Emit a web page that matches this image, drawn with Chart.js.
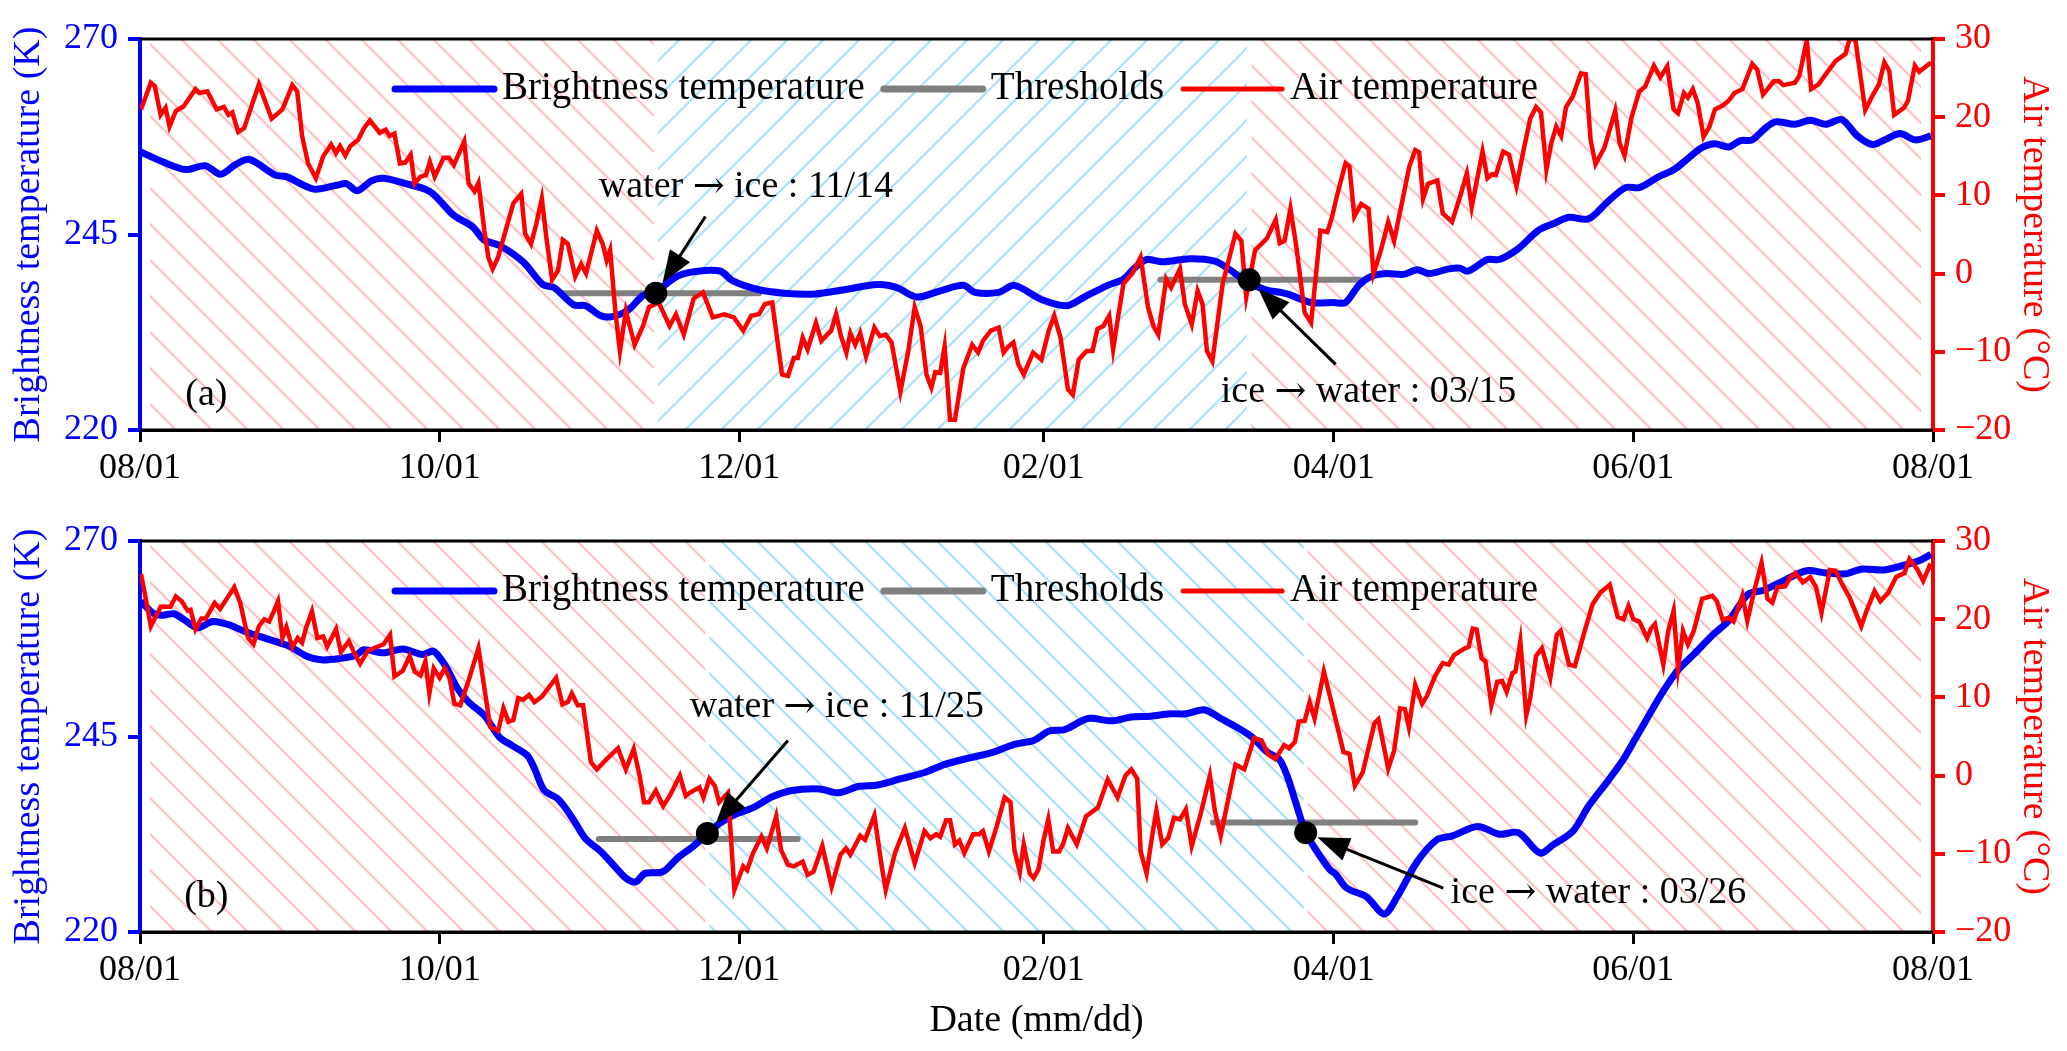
<!DOCTYPE html>
<html>
<head>
<meta charset="utf-8">
<script src="https://cdn.jsdelivr.net/npm/chart.js@4.4.1/dist/chart.umd.min.js"></script>
<style>
  html, body { margin: 0; padding: 0; background: #fff; }
  #wrap { position: relative; width: 2067px; height: 1051px; }
  canvas { position: absolute; left: 0; }
  #panelA { top: 0; }
  #panelB { top: 500px; }
</style>
</head>
<body>
<div id="wrap">
  <canvas id="panelA" width="2067" height="500"></canvas>
  <canvas id="panelB" width="2067" height="551"></canvas>
</div>
<script>
const FONT = '"Liberation Serif", "Times New Roman", serif';
const ARROW_FONT = '"DejaVu Serif", serif';

// x axis: days since 08/01
const tickDays = [0, 61, 122, 184, 243, 304, 365];
const tickLabels = ['08/01', '10/01', '12/01', '02/01', '04/01', '06/01', '08/01'];
const btTicks = [220, 245, 270];
const airTicks = [-20, -10, 0, 10, 20, 30];
const legendNames = ['Brightness temperature', 'Thresholds', 'Air temperature'];

// ---- panel (a) ----
const btDayA = [0, 4.6, 9.3, 13.3, 16.4, 19.6, 22.3, 27.5, 29.8, 35.4, 40, 42, 44.2, 47.2, 49.6, 53.5, 59, 63.8, 67.7, 70,
  73.2, 78, 82, 84.3, 88.3, 90.7, 93.8, 96.1, 99.3, 102.4, 104.8, 109.5, 113.5, 118.2, 120.6, 125.6, 131.1, 137.5, 143, 150.2,
  154.1, 158.1, 162.9, 167.6, 170, 174.8, 178, 183.5, 188.7, 192.2, 197, 200.2, 202.6, 205, 208.1, 213.7, 218.8, 221.6, 224.8, 228.8,
  233.5, 238.3, 243, 245.4, 248.1, 250.5, 253.7, 257.2, 260, 262.4, 266.4, 268.7, 270.3, 274.3, 276.7, 280.6, 284.6, 287.8, 290.9, 294.9,
  298.8, 302.4, 305.2, 309.2, 312.3, 314.7, 317.9, 320.6, 323.4, 325.8, 328.2, 330.5, 332.9, 336.9, 340, 343.2, 346.4, 349.6, 352.7, 355.1,
  358.3, 361.4, 364.6];
const btValA = [255.6, 254.3, 253.3, 253.8, 252.7, 254.0, 254.6, 252.6, 252.4, 250.8, 251.3, 251.5, 250.6, 251.9, 252.2, 251.6, 250.5, 247.5, 246.0, 244.3,
  243.6, 241.5, 238.6, 238.2, 236.0, 235.9, 234.6, 234.5, 235.3, 237.2, 237.6, 239.7, 240.3, 240.3, 239.1, 238.0, 237.5, 237.4, 237.9, 238.6,
  238.2, 237.0, 237.8, 238.5, 237.6, 237.6, 238.5, 236.7, 235.9, 237.0, 238.5, 239.3, 240.8, 241.8, 241.5, 241.9, 241.6, 240.6, 239.2, 238.0,
  237.4, 236.3, 236.3, 236.3, 238.5, 239.6, 240.0, 239.9, 240.5, 240.0, 240.6, 240.7, 240.3, 241.8, 241.8, 243.2, 245.5, 246.4, 247.2, 247.0,
  249.2, 251.0, 251.0, 252.4, 253.3, 254.5, 256.1, 256.6, 256.2, 257.0, 257.1, 258.4, 259.4, 259.1, 259.6, 259.1, 259.7, 257.6, 256.5, 257.1,
  257.9, 257.1, 257.6];
const airDayA = [0.2, 2.2, 3, 4.2, 5.2, 6, 7.3, 8.9, 11.3, 12.1, 13.7, 15.6, 17.1, 18, 18.8, 20, 21.2, 24.2, 26.8, 29,
  31, 32, 33, 34.2, 35.8, 37.3, 38.9, 39.9, 40.7, 41.8, 42.8, 44.4, 45.6, 46.8, 48.8, 50, 50.8, 51.8, 52.9, 54,
  55.1, 55.9, 57.1, 58.2, 59, 60, 61.8, 62.9, 63.9, 66, 66.9, 68.1, 68.9, 70.1, 70.9, 71.8, 72.9, 76, 77.6, 78.4,
  79.6, 80.7, 81.8, 82.7, 83.9, 85.1, 86.1, 87.1, 88.6, 89.8, 90.8, 93, 94.2, 95, 95.7, 96.8, 97.7, 98.9, 100.7, 102.4,
  103.6, 105.6, 107.8, 109.1, 110.7, 112.7, 114.6, 116.6, 118.9, 120.9, 122.8, 124.4, 126, 127.2, 128.7, 130.7, 131.9, 133.1, 133.9, 134.9,
  135.9, 137.6, 138.7, 139.9, 140.7, 141.7, 142.7, 143.8, 144.6, 145.6, 146.6, 147.8, 149.5, 150.6, 151.8, 153, 154.8, 156.4, 157.7, 158.9,
  160.1, 161.1, 161.9, 162.9, 163.8, 164.9, 165.9, 167.6, 169.4, 170.6, 171.6, 173.2, 174.8, 175.8, 176.8, 177.8, 178.8, 179.9, 181.8, 183.5,
  185, 186.1, 187.4, 188.9, 189.9, 191.1, 192.7, 193.9, 194.9, 196.1, 197.3, 198.1, 199.1, 200.2, 202, 203.7, 205.2, 206.3, 207.3, 208.9,
  209.9, 211.7, 212.7, 214.1, 215.3, 216.3, 217.2, 218.3, 220.4, 223, 224.2, 225.2, 227, 228.6, 229.4, 231.2, 232, 233, 234.2, 235.4,
  237.1, 238.4, 240.3, 241.7, 242.7, 243.6, 245.4, 246.2, 247.2, 248.6, 250.1, 251.1, 252.7, 254.1, 255.3, 257, 258.4, 259.6, 260.4, 261.2,
  262.2, 264.1, 265.2, 267.1, 268.7, 270.1, 271.1, 272.3, 273.3, 274.3, 275.2, 276, 277.5, 278.7, 280.2, 281.4, 283, 284.2, 285.2, 286.3,
  287.3, 288.3, 289.3, 290.3, 291.7, 293.3, 294.3, 295.3, 296.3, 298.1, 300.3, 301.2, 302.2, 303.6, 305.2, 306.4, 308.2, 309.5, 310.9, 312.2,
  313.1, 314.3, 315.1, 316.1, 317.1, 318.3, 319.5, 320.6, 322.2, 323.4, 324.6, 326.2, 328.2, 329.2, 330.4, 332.6, 333.7, 334.5, 336.9, 337.8,
  339.3, 340.2, 341.7, 343.4, 345.2, 347.2, 348, 349.2, 351.2, 352.8, 354, 355.1, 356.1, 357.1, 359.1, 359.9, 361.3, 362.2, 363.8, 364.6];
const airValA = [21.0, 24.4, 24.0, 20.3, 21.2, 18.8, 20.8, 21.4, 23.6, 23.1, 23.3, 21.0, 21.3, 20.3, 20.6, 18.1, 18.6, 24.2, 19.8, 21.0,
  24.1, 23.3, 17.6, 14.1, 12.2, 15.0, 16.5, 15.4, 16.3, 15.1, 16.3, 17.1, 18.6, 19.6, 18.0, 18.4, 17.6, 17.9, 14.1, 14.2,
  15.2, 11.5, 12.4, 12.6, 14.3, 12.4, 14.8, 14.8, 13.9, 16.9, 11.5, 10.5, 11.6, 5.5, 2.1, 0.6, 2.1, 9.0, 10.2, 5.1,
  3.8, 6.4, 9.6, 4.7, -0.8, 0.4, 4.3, 3.8, -0.4, 1.2, 0.0, 5.5, 3.8, 1.7, 3.0, -5.0, -9.9, -4.8, -9.1, -6.7,
  -4.3, -3.7, -6.7, -5.2, -7.8, -3.2, -2.4, -5.6, -5.2, -5.6, -7.3, -5.4, -5.2, -3.9, -3.7, -12.9, -13.1, -10.8, -10.8, -8.2,
  -9.7, -6.3, -8.6, -7.8, -7.3, -5.2, -8.0, -10.1, -7.6, -9.1, -7.6, -10.6, -6.9, -8.0, -7.8, -8.8, -15.1, -9.9, -4.3, -6.7,
  -12.9, -14.6, -12.6, -12.7, -9.3, -18.7, -18.7, -12.1, -9.1, -10.1, -8.6, -7.3, -6.9, -10.1, -9.3, -8.8, -11.6, -12.9, -10.1, -11.0,
  -7.3, -5.4, -8.2, -14.8, -15.5, -11.0, -9.9, -9.9, -7.1, -6.7, -5.4, -9.7, -5.6, -1.3, 0.0, 2.1, -4.3, -6.7, -7.8, -0.7,
  -1.8, 0.6, -3.9, -6.5, -2.2, -3.9, -9.9, -11.2, -1.3, 5.1, 4.2, -3.0, 3.0, 4.0, 4.5, 6.9, 3.9, 4.2, 8.3, 3.4,
  -5.0, -6.3, 5.5, 5.3, 7.3, 9.8, 14.1, 13.7, 7.3, 8.9, 8.3, 0.0, 3.2, 6.6, 4.2, 9.4, 13.7, 15.8, 15.5, 9.6,
  11.5, 11.9, 7.7, 6.6, 9.8, 12.8, 8.5, 12.4, 15.6, 12.2, 12.7, 12.6, 15.6, 15.2, 11.2, 15.0, 19.8, 21.3, 20.6, 13.3,
  16.7, 18.8, 17.6, 21.3, 22.7, 25.6, 25.5, 17.1, 14.0, 16.1, 20.8, 16.7, 15.1, 19.9, 23.3, 23.9, 26.6, 25.1, 26.5, 21.0,
  20.5, 23.1, 22.5, 23.6, 21.8, 17.5, 18.8, 21.0, 21.5, 22.1, 23.1, 23.6, 26.8, 26.1, 22.9, 24.6, 24.6, 24.1, 24.4, 25.3,
  29.8, 23.6, 24.2, 25.7, 27.2, 28.1, 30.0, 29.9, 20.9, 22.9, 24.2, 27.0, 25.9, 20.3, 21.2, 22.1, 26.6, 25.8, 26.6, 27.0];
const thrDayA = [85.5, 126, 207.7, 248.5];
const thrValA = [237.5, 239.2];
const eventDayA = [105, 225.8];
const eventBtA = [237.5, 239.2];
const eventTextA = ['water \u2192 ice : 11/14', 'ice \u2192 water : 03/15'];

// ---- panel (b) ----
const btDayB = [0.2, 2.6, 4.6, 6.9, 9.3, 11.7, 14.8, 18, 21.1, 24.3, 28.3, 30.6, 33.8, 36.9, 40.9, 44, 45.6, 49.6, 53.5, 57.5,
  59.8, 62.2, 64.6, 66.9, 70.1, 73.2, 75.6, 78.8, 80.3, 82.3, 85.1, 88.2, 90.6, 93.8, 96.9, 98.9, 100.9, 102.8, 106.4, 109.5,
  112.7, 115.5, 118.2, 121, 124.8, 128.7, 132.7, 138.3, 142.2, 146.2, 150.2, 154.9, 159.7, 163.7, 168.4, 173.2, 178, 181.9, 185.1, 188.3,
  193, 197.8, 201.8, 205.7, 209.7, 212.9, 216.8, 220, 223.2, 226.4, 229.5, 231.9, 233.5, 235.5, 237.3, 239.8, 242.2, 243.4, 245.3, 246.6,
  249.7, 253.3, 256.1, 260, 264, 267.2, 272.3, 276.7, 280.6, 285, 287.8, 291.7, 294.9, 298.8, 302, 304.4, 306.8, 310, 313.1, 316.3,
  320.2, 323.4, 327.4, 330.5, 334.5, 339.3, 343.2, 347.2, 350.4, 355.1, 359.1, 362.2, 364.6];
const btValB = [262.3, 260.8, 260.5, 260.7, 259.8, 258.9, 259.7, 259.3, 258.5, 257.8, 257.0, 256.5, 255.3, 254.8, 255.0, 255.4, 256.1, 255.7, 256.2, 255.5,
  255.9, 254.0, 251.2, 249.4, 247.7, 244.9, 243.9, 242.6, 240.9, 238.1, 237.0, 234.4, 232.0, 230.3, 228.2, 226.9, 226.4, 227.5, 227.7, 229.5,
  231.0, 232.6, 234.0, 235.0, 235.9, 237.3, 238.1, 238.3, 237.8, 238.6, 238.8, 239.6, 240.4, 241.4, 242.2, 242.9, 244.0, 244.5, 245.7, 245.9,
  247.3, 247.0, 247.5, 247.6, 247.9, 247.9, 248.4, 247.3, 246.2, 244.9, 243.0, 242.1, 240.0, 236.1, 232.7, 230.1, 228.0, 227.4, 225.8, 225.3,
  224.5, 222.3, 224.7, 229.0, 231.8, 232.3, 233.5, 232.5, 232.7, 230.1, 231.2, 232.9, 236.1, 239.3, 242.1, 244.7, 247.3, 250.7, 253.5, 255.5,
  258.0, 259.8, 263.2, 263.7, 264.9, 266.2, 265.9, 265.8, 266.4, 266.3, 266.9, 267.5, 268.3];
const airDayB = [0.2, 1, 2.2, 4.2, 6.2, 7.3, 8.5, 9.7, 10.3, 11.3, 12.5, 13.4, 15.2, 16.3, 19.2, 20.4, 22, 23.1, 24.2, 25.3,
  26.3, 27.3, 28.1, 29, 29.8, 31, 32.1, 33, 33.8, 35, 36.1, 37.3, 38.1, 39.9, 40.9, 42.5, 43.6, 44.8, 46.4, 49.6,
  50.9, 51.8, 53.5, 54.9, 55.9, 57.1, 58.1, 58.9, 59.8, 61, 62, 63, 64, 65.2, 66.9, 68.9, 70.1, 71.3, 72.9, 74,
  75, 76, 77, 78, 79.2, 80.3, 81.8, 84.7, 86, 87.1, 87.9, 89.1, 90.2, 91.8, 93, 95, 97.3, 98.9, 100.5, 101.7,
  102.6, 103.6, 105, 106.5, 108, 109.9, 111.1, 111.9, 113.9, 114.7, 115.9, 117, 117.9, 119.7, 121, 122.8, 123.6, 124.8, 126.5, 127.6,
  129.5, 130.5, 131.9, 133.1, 134.9, 135.9, 137.1, 138.9, 140.8, 142.6, 143.7, 144.6, 146.6, 147.6, 149.5, 151, 151.8, 153.7, 155.7, 157.7,
  159.7, 160.9, 162.1, 162.9, 164.1, 164.9, 165.9, 166.8, 167.8, 169.6, 170.8, 171.6, 172.8, 174.4, 176, 177.2, 178, 179.1, 179.9, 181.1,
  181.9, 182.9, 183.9, 184.9, 185.9, 187.1, 187.9, 188.9, 190.7, 192.6, 195, 197, 199, 200.6, 201.8, 203, 203.7, 204.9, 206.1, 206.9,
  208.1, 209.3, 210.5, 211.7, 212.9, 214.1, 216, 217.8, 218.8, 220, 221.6, 223, 224.8, 226.8, 228.3, 229.7, 231.1, 232.9, 233.9, 235.1,
  235.9, 237.1, 238.1, 239.1, 241, 243, 245, 246.2, 247.3, 248.9, 251.3, 252.1, 254.1, 255.3, 256.5, 257.5, 258.3, 259.6, 261, 262,
  263.6, 265.2, 266.4, 267.5, 269.5, 270.5, 271.3, 272.1, 273.1, 273.9, 275.1, 276.3, 277.3, 278.2, 279.4, 280, 281, 282.2, 283, 284.2,
  285.4, 287.1, 288.4, 289.2, 290.9, 292.1, 294.1, 295.7, 297.3, 299.2, 300.8, 302, 303, 304, 305.2, 306.8, 307.6, 308.4, 310.1, 311.1,
  312.2, 313.1, 314.1, 315.1, 316.3, 318, 320.1, 321, 322.2, 323.4, 324.4, 326.2, 327.2, 328.6, 330.1, 331.3, 332.3, 333.3, 334.9, 335.9,
  337, 338.5, 340, 341.2, 342.3, 344, 345.2, 346.4, 348, 350.4, 351.5, 353.1, 354.3, 355.9, 357.5, 359.2, 360.2, 361.8, 363, 364.5];
const airValB = [25.8, 23.2, 19.1, 21.6, 21.6, 22.9, 22.3, 21.1, 21.2, 18.7, 20.1, 20.1, 22.1, 21.3, 24.1, 22.1, 17.6, 16.8, 19.1, 20.0,
  19.7, 21.1, 22.3, 17.6, 19.0, 16.4, 17.6, 17.0, 18.9, 21.0, 17.6, 17.8, 16.5, 18.7, 15.8, 17.2, 15.7, 14.3, 16.0, 16.8,
  18.0, 12.7, 13.4, 15.3, 13.3, 12.8, 14.6, 10.5, 13.7, 12.5, 13.7, 12.5, 9.2, 9.0, 12.2, 16.3, 11.2, 6.2, 5.7, 8.6,
  6.9, 7.1, 9.9, 9.7, 10.3, 9.4, 10.1, 12.5, 9.1, 9.4, 10.5, 9.0, 9.0, 1.7, 0.8, 2.1, 3.5, 0.8, 3.4, 0.0,
  -3.4, -3.4, -1.9, -3.9, -2.4, 0.0, -2.6, -2.2, -1.5, -2.8, -0.4, -1.3, -3.4, -2.2, -14.6, -11.6, -12.1, -9.9, -7.8, -9.3,
  -5.2, -9.5, -11.4, -11.6, -11.0, -12.7, -12.3, -9.0, -14.2, -10.1, -9.3, -10.1, -7.7, -8.2, -5.1, -11.6, -14.6, -9.9, -6.7, -11.2,
  -7.1, -8.0, -7.5, -7.8, -5.7, -5.7, -8.8, -8.3, -9.9, -7.5, -7.5, -7.1, -9.7, -6.5, -2.8, -3.4, -9.5, -12.3, -8.8, -12.5,
  -13.1, -12.0, -8.4, -5.6, -9.7, -9.7, -8.8, -6.7, -8.8, -5.2, -4.1, -0.5, -2.8, 0.0, 0.8, -0.4, -9.7, -12.5, -7.5, -4.5,
  -8.8, -8.0, -5.4, -5.6, -4.3, -9.0, -4.7, 0.0, -4.5, -7.7, -2.8, 1.4, 0.8, 4.8, 4.5, 2.7, 2.1, 3.9, 3.5, 4.3,
  6.9, 7.0, 9.4, 7.3, 13.3, 8.2, 3.0, 2.8, -1.3, 0.4, 6.7, 7.2, 0.9, 3.2, 8.6, 8.5, 6.2, 11.6, 9.2, 10.2,
  12.7, 14.4, 14.2, 15.4, 16.2, 16.5, 18.8, 18.7, 15.0, 14.6, 9.0, 12.0, 12.1, 10.7, 13.1, 13.3, 17.2, 7.7, 9.9, 15.3,
  16.3, 12.5, 18.0, 18.5, 14.2, 14.0, 18.5, 21.9, 23.4, 24.4, 20.3, 20.0, 21.7, 20.0, 19.7, 17.6, 18.8, 19.4, 14.2, 18.5,
  21.1, 13.7, 18.5, 16.8, 18.5, 22.6, 23.0, 22.3, 19.9, 20.2, 19.7, 23.0, 19.8, 23.6, 27.2, 22.6, 22.1, 24.1, 24.2, 25.3,
  25.9, 24.7, 25.4, 24.1, 20.8, 26.3, 26.2, 24.6, 22.8, 19.1, 21.1, 23.6, 22.3, 23.4, 25.4, 25.9, 27.7, 26.4, 24.9, 27.1];
const thrDayB = [93.4, 133.9, 218.4, 259.6];
const thrValB = [231.9, 234.0];
const eventDayB = [115.5, 237.3];
const eventBtB = [232.6, 232.7];
const eventTextB = ['water \u2192 ice : 11/25', 'ice \u2192 water : 03/26'];

const pts = (days, vals) => days.map((d, i) => ({ x: d, y: vals[i] }));

function hatch(ctx, area, x0, x1, dir, color) {
  const h = area.bottom - area.top;
  ctx.save();
  ctx.beginPath();
  ctx.rect(x0, area.top, x1 - x0, h);
  ctx.clip();
  ctx.strokeStyle = color;
  ctx.lineWidth = 2.2;
  ctx.beginPath();
  for (let s = area.left - h; s < area.right + h; s += 36) {
    if (dir === '\\') { ctx.moveTo(s, area.top); ctx.lineTo(s + h, area.bottom); }
    else { ctx.moveTo(s, area.bottom); ctx.lineTo(s + h, area.top); }
  }
  ctx.stroke();
  ctx.restore();
}

function arrowTo(ctx, x0, y0, x1, y1, r) {
  const dx = x1 - x0, dy = y1 - y0, len = Math.hypot(dx, dy);
  const ux = dx / len, uy = dy / len;
  const tx = x1 - ux * (r + 1), ty = y1 - uy * (r + 1);
  const hl = 32, hw = 12;
  const bx = tx - ux * hl, by = ty - uy * hl;
  ctx.strokeStyle = '#000';
  ctx.lineWidth = 3;
  ctx.beginPath();
  ctx.moveTo(x0, y0);
  ctx.lineTo(bx + ux * 4, by + uy * 4);
  ctx.stroke();
  ctx.fillStyle = '#000';
  ctx.beginPath();
  ctx.moveTo(tx, ty);
  ctx.lineTo(bx - uy * hw, by + ux * hw);
  ctx.lineTo(bx + uy * hw, by - ux * hw);
  ctx.closePath();
  ctx.fill();
}

// text with the arrow glyph set in a font whose arrow is long like the original
function noteText(ctx, text, x, y) {
  const parts = text.split('\u2192');
  ctx.font = '38px ' + FONT;
  ctx.fillText(parts[0], x, y);
  x += ctx.measureText(parts[0]).width;
  ctx.font = '38px ' + ARROW_FONT;
  ctx.fillText('\u2192', x, y + 1);
  x += ctx.measureText('\u2192').width;
  ctx.font = '38px ' + FONT;
  ctx.fillText(parts[1], x, y);
}

function decor(p) {
  return {
    id: 'decor',
    beforeDatasetsDraw(chart) {
      const { ctx, chartArea: a, scales: { x } } = chart;
      const f = x.getPixelForValue(p.eventDay[0]);
      const b = x.getPixelForValue(p.eventDay[1]);
      hatch(ctx, a, a.left + 10, f - 2, '\\', '#ffc2c2');
      hatch(ctx, a, f + 2, b - 2, p.iceDir, '#a9e1f6');
      hatch(ctx, a, b + 2, a.right - 12, '\\', '#ffc2c2');
    },
    afterDatasetsDraw(chart) {
      const { ctx, chartArea: a, scales: { x, yL } } = chart;
      ctx.save();
      // frame
      ctx.strokeStyle = '#000';
      ctx.lineWidth = 3;
      ctx.beginPath();
      ctx.moveTo(a.left, a.top); ctx.lineTo(a.right, a.top);
      ctx.moveTo(a.left, a.bottom); ctx.lineTo(a.right, a.bottom);
      ctx.stroke();

      // legend
      const cols = ['#0000ff', '#808080', '#ff0000'];
      const widths = [7, 7, 5];
      ctx.font = '39px ' + FONT;
      ctx.textBaseline = 'middle';
      ctx.textAlign = 'left';
      let lx = a.left + 255;
      const ly = a.top + 50;
      legendNames.forEach((name, i) => {
        ctx.strokeStyle = cols[i];
        ctx.lineWidth = widths[i];
        ctx.lineCap = 'round';
        ctx.beginPath();
        ctx.moveTo(lx, ly); ctx.lineTo(lx + 99, ly);
        ctx.stroke();
        lx += 107;
        ctx.fillStyle = '#000';
        ctx.fillText(name, lx, ly);
        lx += ctx.measureText(name).width + 19;
      });
      ctx.lineCap = 'butt';

      // event annotations
      p.notes.forEach((n, i) => {
        const cx = x.getPixelForValue(p.eventDay[i]);
        const cy = yL.getPixelForValue(p.eventBt[i]);
        arrowTo(ctx, x.getPixelForValue(n.ax), yL.getPixelForValue(n.ay), cx, cy, 11.5);
        ctx.fillStyle = '#000';
        ctx.textAlign = 'left';
        noteText(ctx, p.eventText[i], x.getPixelForValue(n.tx), yL.getPixelForValue(n.ty));
      });

      // panel tag
      ctx.font = '38px ' + FONT;
      ctx.textAlign = 'center';
      ctx.fillText(p.tag, x.getPixelForValue(13.5), yL.getPixelForValue(224.5));
      ctx.restore();
    }
  };
}

function makePanel(id, p) {
  const tickFont = { family: FONT, size: 36 };
  const titleFont = { family: FONT, size: 38 };
  return new Chart(document.getElementById(id), {
    type: 'line',
    data: {
      datasets: [
        {
          label: 'events',
          data: pts(p.eventDay, p.eventBt),
          yAxisID: 'yL',
          showLine: false,
          pointRadius: 11.5,
          pointBackgroundColor: '#000',
          pointBorderWidth: 0
        },
        {
          label: legendNames[2],
          data: pts(p.airDay, p.airVal),
          yAxisID: 'yR',
          borderColor: '#ff0000',
          borderWidth: 4.5,
          pointRadius: 0,
          tension: 0
        },
        {
          label: legendNames[0],
          data: pts(p.btDay, p.btVal),
          yAxisID: 'yL',
          borderColor: '#0000ff',
          borderWidth: 7,
          pointRadius: 0,
          tension: 0.3
        },
        {
          label: legendNames[1],
          data: [
            { x: p.thrDay[0], y: p.thrVal[0] },
            { x: p.thrDay[1], y: p.thrVal[0] },
            { x: (p.thrDay[1] + p.thrDay[2]) / 2, y: null },
            { x: p.thrDay[2], y: p.thrVal[1] },
            { x: p.thrDay[3], y: p.thrVal[1] }
          ],
          yAxisID: 'yL',
          borderColor: '#808080',
          borderWidth: 6,
          borderCapStyle: 'round',
          pointRadius: 0,
          spanGaps: false
        }
      ]
    },
    options: {
      responsive: false,
      devicePixelRatio: 1,
      animation: false,
      events: [],
      layout: { padding: { top: p.padTop, left: 0, right: 0, bottom: 0 } },
      plugins: { legend: { display: false }, tooltip: { enabled: false } },
      scales: {
        x: {
          type: 'linear',
          min: 0,
          max: 365,
          afterBuildTicks: (s) => { s.ticks = tickDays.map((v) => ({ value: v })); },
          afterFit: (s) => { s.height = p.xHeight; },
          ticks: {
            callback: (v) => tickLabels[tickDays.indexOf(v)],
            color: '#000',
            font: tickFont,
            padding: 5,
            maxRotation: 0,
            autoSkip: false
          },
          grid: { drawOnChartArea: false, drawTicks: true, tickLength: 12, color: '#000', lineWidth: 3 },
          border: { color: '#000', width: 3 },
          title: {
            display: p.xTitle,
            text: 'Date (mm/dd)',
            color: '#000',
            font: titleFont,
            padding: { top: 0, bottom: 7 }
          }
        },
        yL: {
          position: 'left',
          min: 220,
          max: 270,
          afterBuildTicks: (s) => { s.ticks = btTicks.map((v) => ({ value: v })); },
          afterFit: (s) => { s.width = 140; },
          ticks: { color: '#0000ff', font: tickFont, padding: 10 },
          grid: { drawOnChartArea: false, drawTicks: true, tickLength: 12, color: '#0000ff', lineWidth: 4 },
          border: { color: '#0000ff', width: 4 },
          title: {
            display: true,
            text: 'Brightness temperature (K)',
            color: '#0000ff',
            font: titleFont,
            padding: { top: 6, bottom: 0 }
          }
        },
        yR: {
          position: 'right',
          min: -20,
          max: 30,
          afterBuildTicks: (s) => { s.ticks = airTicks.map((v) => ({ value: v })); },
          afterFit: (s) => { s.width = 134; },
          ticks: {
            color: '#ff0000',
            font: tickFont,
            padding: 10,
            callback: (v) => String(v).replace('-', '\u2212')
          },
          grid: { drawOnChartArea: false, drawTicks: true, tickLength: 12, color: '#ff0000', lineWidth: 4 },
          border: { color: '#ff0000', width: 4 },
          title: {
            display: true,
            text: 'Air temperature (\u00B0C)',
            color: '#ff0000',
            font: titleFont,
            padding: { top: 10, bottom: 0 }
          }
        }
      }
    },
    plugins: [decor(p)]
  });
}

makePanel('panelA', {
  tag: '(a)', padTop: 39, xHeight: 70, xTitle: false, iceDir: '/',
  btDay: btDayA, btVal: btValA, airDay: airDayA, airVal: airValA,
  thrDay: thrDayA, thrVal: thrValA, eventDay: eventDayA, eventBt: eventBtA, eventText: eventTextA,
  notes: [
    { tx: 93.4, ty: 251.1, ax: 115.1, ay: 247.3 },
    { tx: 220, ty: 224.9, ax: 243.4, ay: 228.4 }
  ]
});

makePanel('panelB', {
  tag: '(b)', padTop: 41, xHeight: 119, xTitle: true, iceDir: '\\',
  btDay: btDayB, btVal: btValB, airDay: airDayB, airVal: airValB,
  thrDay: thrDayB, thrVal: thrValB, eventDay: eventDayB, eventBt: eventBtB, eventText: eventTextB,
  notes: [
    { tx: 111.9, ty: 248.8, ax: 131.9, ay: 244.5 },
    { tx: 266.8, ty: 225.0, ax: 265.3, ay: 225.6 }
  ]
});
</script>
</body>
</html>
